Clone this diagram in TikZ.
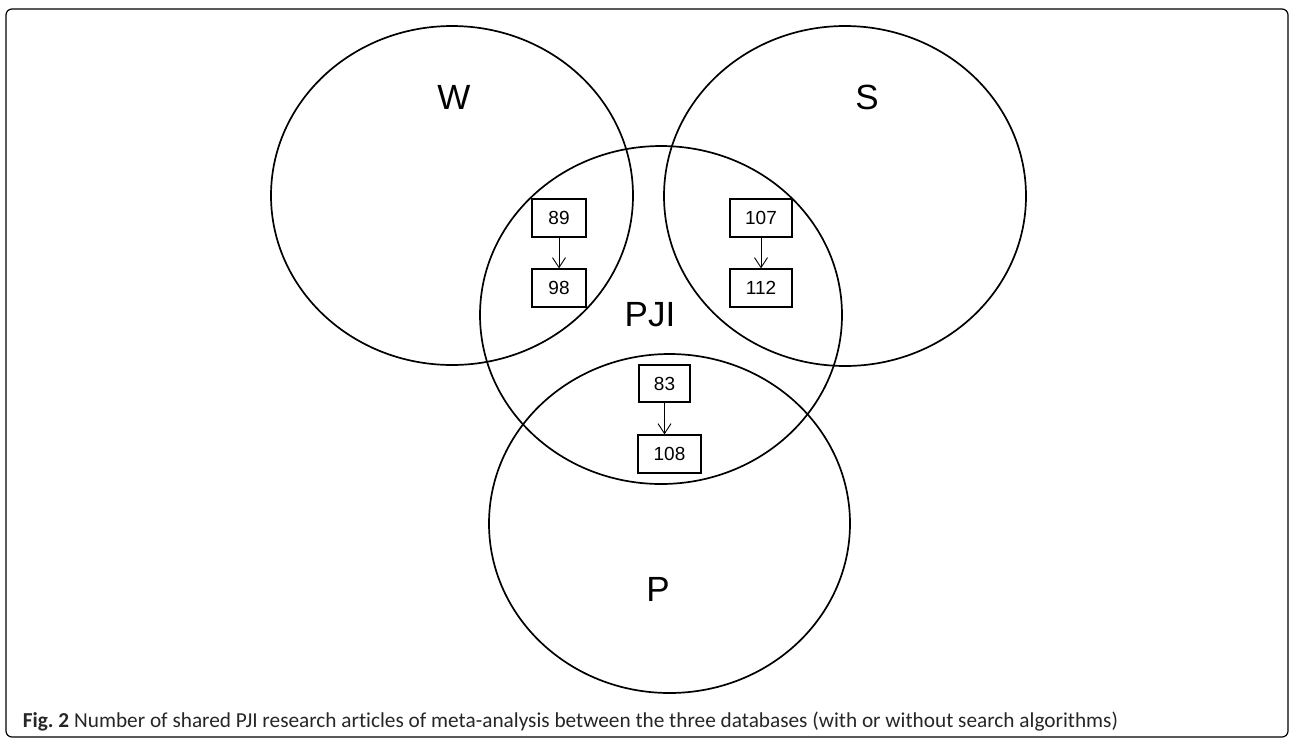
\documentclass[tikz,border=0pt]{standalone}
\usepackage{fontspec}
\setmainfont{Liberation Sans}
\newfontfamily\capfont[Ligatures=NoCommon]{Carlito}
\usetikzlibrary{shapes.geometric,arrows.meta}
\begin{document}
\begin{tikzpicture}[x=1pt,y=-1pt,
  vset/.style={ellipse,draw,line width=1.7pt,inner sep=0pt,outer sep=0pt},
  setlabel/.style={font=\fontsize{35}{37}\selectfont,inner sep=0pt},
  numbox/.style={draw,line width=1.2pt,inner sep=0pt,minimum height=38pt,font=\fontsize{19}{20}\selectfont},
  flow/.style={line width=0.9pt,-{Straight Barb[length=10pt,width=13pt]}}]
\useasboundingbox (0,0) rectangle (1290,740);
\draw[line width=1.2pt,rounded corners=6pt] (6,9) rectangle (1288,737);
% sets
\node[vset,minimum width=362pt,minimum height=339pt] (W) at (452,195.5) {};
\node[vset,minimum width=362pt,minimum height=340pt] (S) at (845,196) {};
\node[vset,minimum width=362pt,minimum height=338pt] (PJI) at (661,315) {};
\node[vset,minimum width=361pt,minimum height=339pt] (P) at (669.5,523.5) {};
% labels
\node[setlabel] (lW) at (454,97) {W};
\node[setlabel] (lS) at (867,97) {S};
\node[setlabel] (lPJI) at (650,315) {PJI};
\node[setlabel] (lP) at (658,589) {P};
% boxes
\node[numbox,minimum width=54pt] (b89) at (559,218) {89};
\node[numbox,minimum width=54pt] (b98) at (559,288) {98};
\node[numbox,minimum width=62pt] (b107) at (761,218) {107};
\node[numbox,minimum width=62pt] (b112) at (761,288) {112};
\node[numbox,minimum width=51pt,minimum height=37pt] (b83) at (664.5,383.5) {83};
\node[numbox,minimum width=63pt] (b108) at (669.5,454) {108};
\draw[flow] (b89.south) -- (b98.north);
\draw[flow] (b107.south) -- (b112.north);
\draw[flow] (b83.south) -- (b83.south |- b108.north);
% caption
\node[anchor=base west,inner sep=0pt,text=black!85] (cap) at (22.7,727)
  {\resizebox{1095pt}{!}{\capfont\fontsize{18}{20}\selectfont\textbf{Fig.~2} Number of shared PJI research articles of meta-analysis between the three databases (with or without search algorithms)}};
\end{tikzpicture}
\end{document}
